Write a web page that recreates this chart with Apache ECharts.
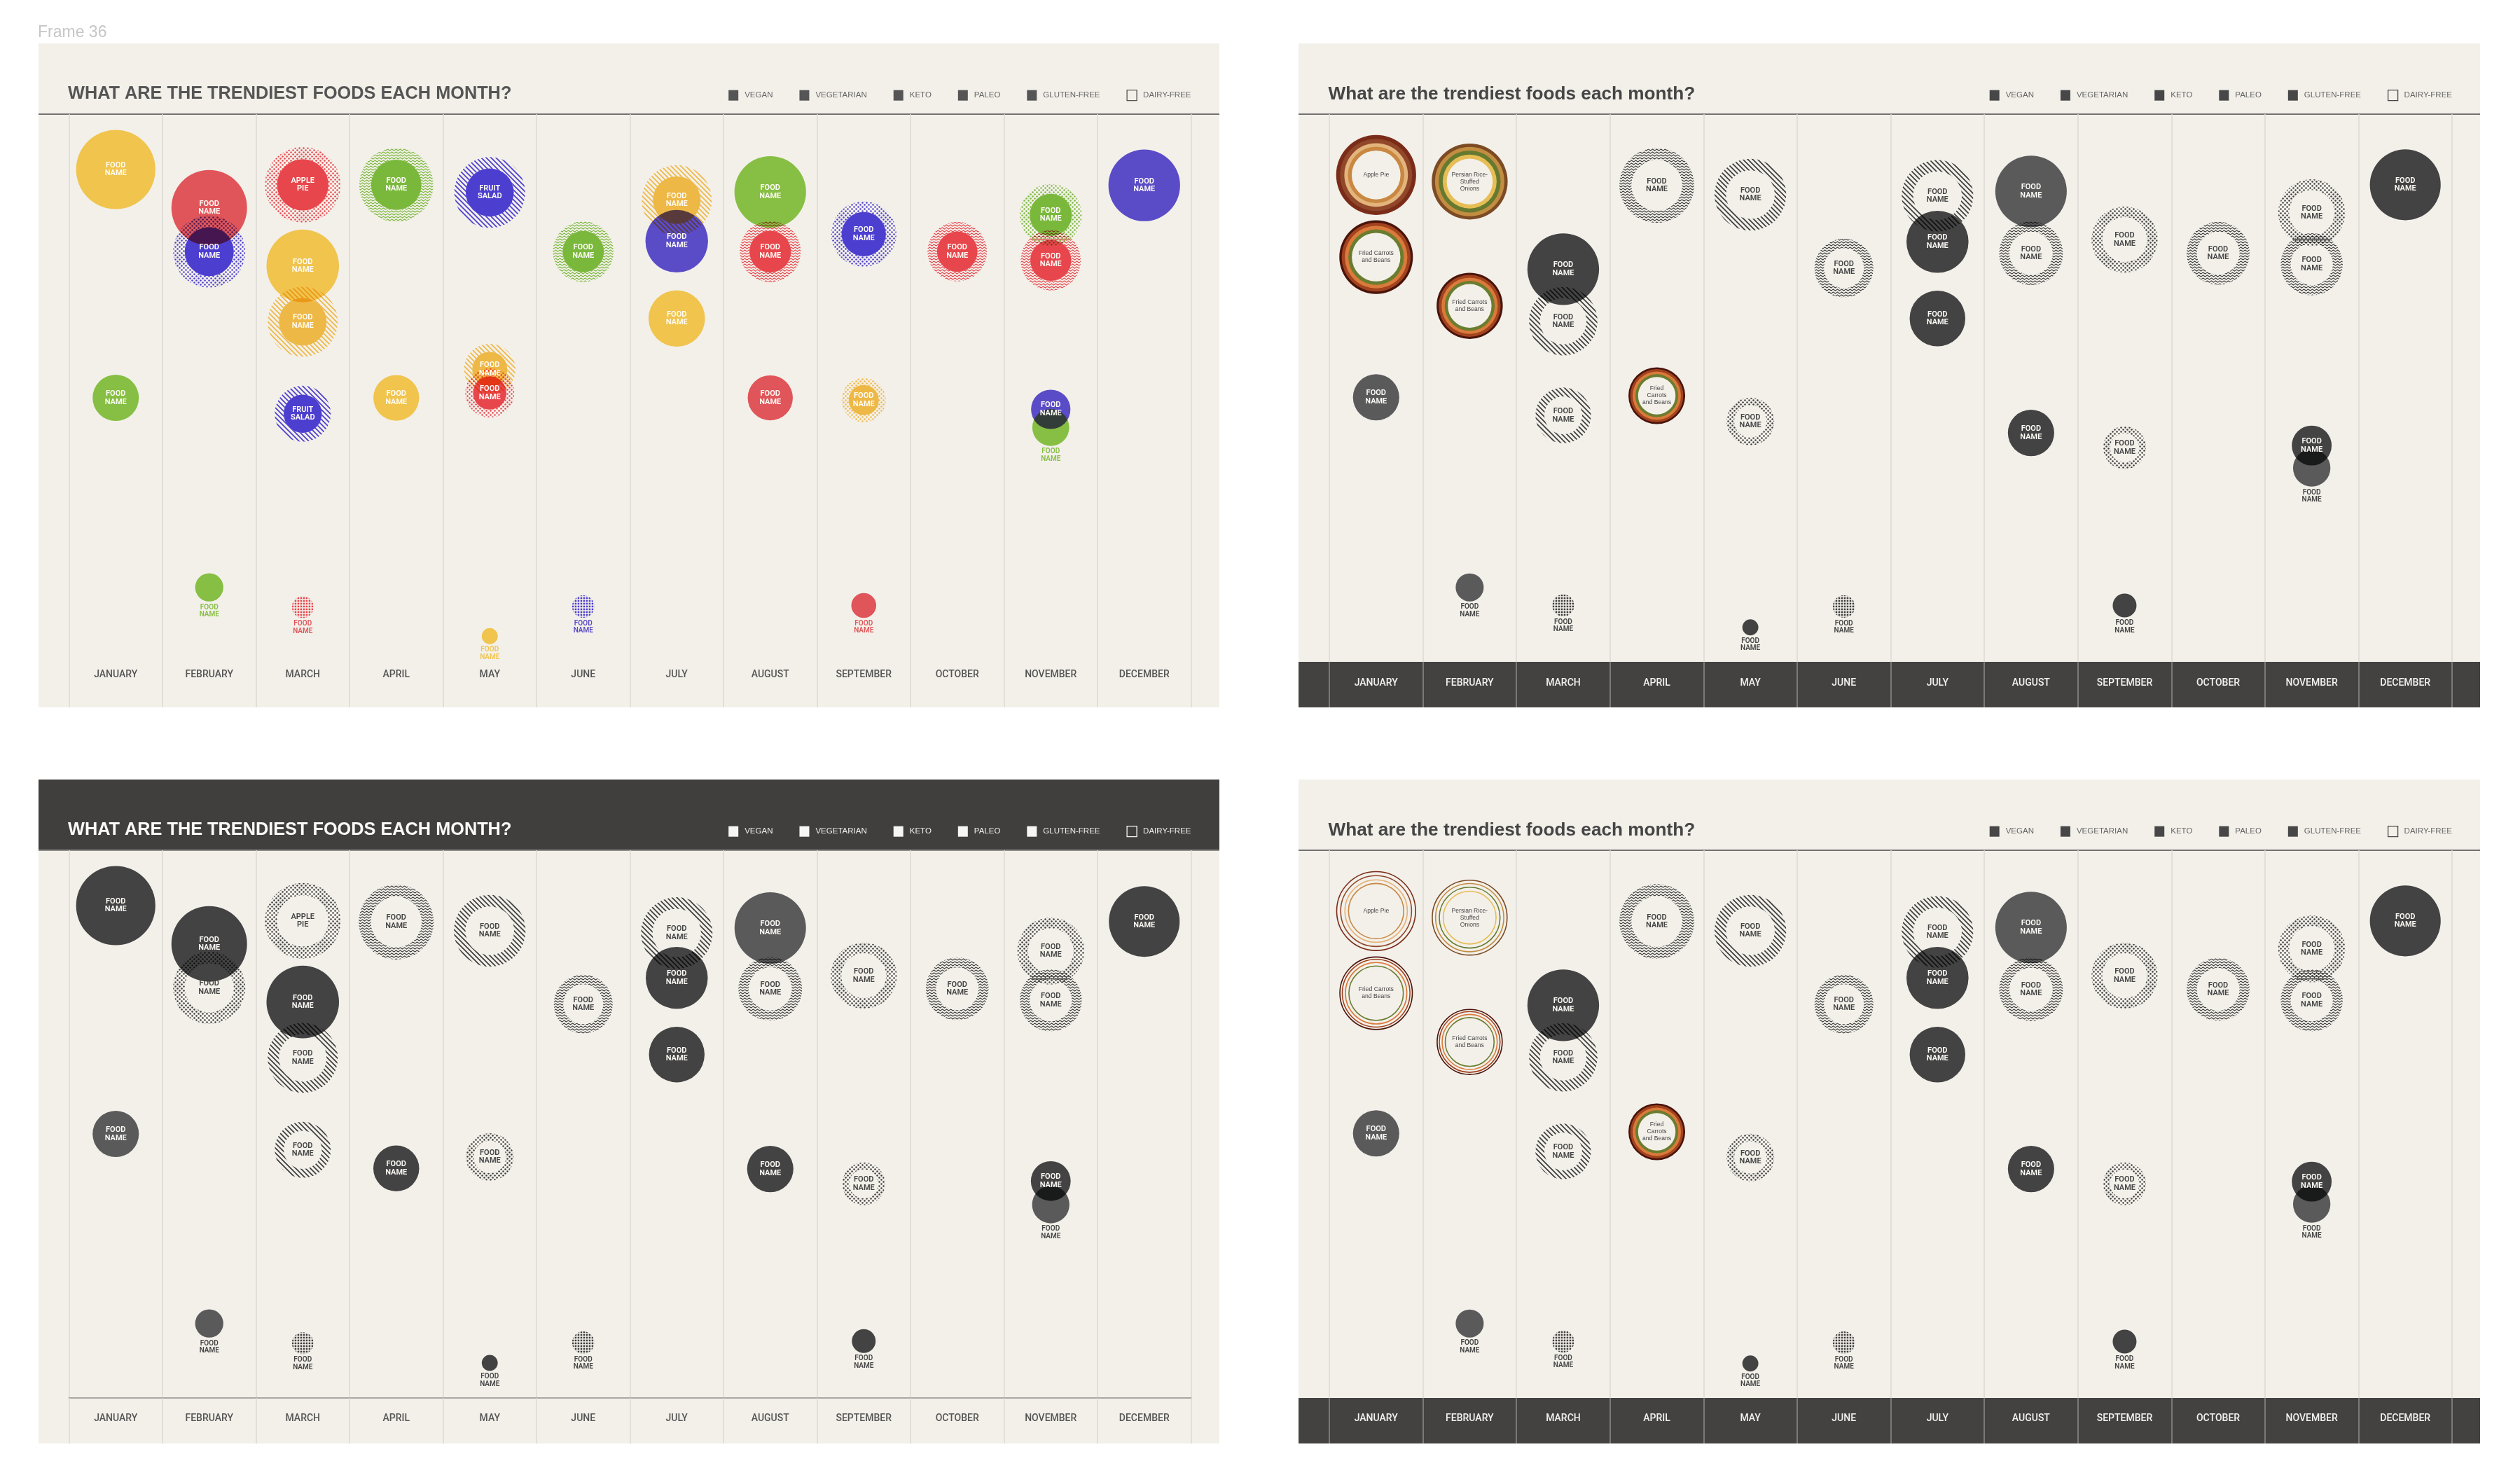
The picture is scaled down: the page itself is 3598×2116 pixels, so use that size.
<!DOCTYPE html>
<html>
<head>
<meta charset="utf-8">
<script src="https://cdn.jsdelivr.net/npm/echarts@6/dist/echarts.min.js"></script>
<style>
html,body{margin:0;padding:0;background:#ffffff;}
#c{width:3598px;height:2116px;}
</style>
</head>
<body>
<div id="c"></div>
<script>
// ---------------- DATA ----------------
const MONTHS = ['JANUARY','FEBRUARY','MARCH','APRIL','MAY','JUNE','JULY','AUGUST','SEPTEMBER','OCTOBER','NOVEMBER','DECEMBER'];
const DIETS = ['VEGAN','VEGETARIAN','KETO','PALEO','GLUTEN-FREE','DAIRY-FREE'];
const TITLE_CAPS = 'WHAT ARE THE TRENDIEST FOODS EACH MONTH?';
const TITLE_SENTENCE = 'What are the trendiest foods each month?';
const FN = 'FOOD\nNAME';

// rows: [month, trend score (0-100), buzz (bubble size, 0-100), diet, food group, label]
const DRAFT_FOODS = [
  ['JANUARY', 89.9, 94.2, 'VEGAN', 'sunny', FN],
  ['JANUARY', 48.2, 55.0, 'VEGAN', 'leafy', FN],
  ['FEBRUARY', 82.9, 89.9, 'VEGAN', 'tomato', FN],
  ['FEBRUARY', 74.9, 85.7, 'PALEO', 'berry', FN],
  ['FEBRUARY', 13.6, 33.5, 'VEGAN', 'leafy', FN],
  ['MARCH', 87.1, 89.9, 'PALEO', 'tomato', 'APPLE\nPIE'],
  ['MARCH', 72.3, 86.2, 'VEGAN', 'sunny', FN],
  ['MARCH', 62.1, 83.2, 'VEGETARIAN', 'sunny', FN],
  ['MARCH', 45.3, 66.6, 'VEGETARIAN', 'berry', 'FRUIT\nSALAD'],
  ['MARCH', 10.0, 25.8, 'GLUTEN-FREE', 'tomato', FN],
  ['APRIL', 87.1, 87.9, 'KETO', 'leafy', FN],
  ['APRIL', 48.2, 54.4, 'VEGAN', 'sunny', FN],
  ['MAY', 85.7, 84.1, 'VEGETARIAN', 'berry', 'FRUIT\nSALAD'],
  ['MAY', 53.4, 61.1, 'VEGETARIAN', 'sunny', FN],
  ['MAY', 49.1, 58.3, 'PALEO', 'tomato', FN],
  ['MAY', 4.7, 19.1, 'VEGAN', 'sunny', FN],
  ['JUNE', 74.9, 72.1, 'KETO', 'leafy', FN],
  ['JUNE', 10.1, 26.6, 'GLUTEN-FREE', 'berry', FN],
  ['JULY', 84.3, 83.2, 'VEGETARIAN', 'sunny', FN],
  ['JULY', 76.8, 74.4, 'VEGAN', 'berry', FN],
  ['JULY', 62.7, 67.1, 'VEGAN', 'sunny', FN],
  ['AUGUST', 85.8, 85.1, 'VEGAN', 'leafy', FN],
  ['AUGUST', 74.9, 72.6, 'KETO', 'tomato', FN],
  ['AUGUST', 48.2, 53.6, 'VEGAN', 'tomato', FN],
  ['SEPTEMBER', 78.1, 77.4, 'PALEO', 'berry', FN],
  ['SEPTEMBER', 47.8, 52.6, 'PALEO', 'sunny', FN],
  ['SEPTEMBER', 10.3, 29.6, 'VEGAN', 'tomato', FN],
  ['OCTOBER', 74.9, 70.7, 'KETO', 'tomato', FN],
  ['NOVEMBER', 81.6, 73.6, 'PALEO', 'leafy', FN],
  ['NOVEMBER', 73.3, 71.6, 'KETO', 'tomato', FN],
  ['NOVEMBER', 46.1, 46.8, 'VEGAN', 'berry', FN],
  ['NOVEMBER', 42.8, 43.9, 'VEGAN', 'leafy', FN],
  ['DECEMBER', 87.0, 85.1, 'VEGAN', 'berry', FN]
];

const MONO_FOODS = [
  ['JANUARY', 89.9, 94.2, 'VEGAN', 'sunny', FN],
  ['JANUARY', 48.2, 55.0, 'VEGAN', 'leafy', FN],
  ['FEBRUARY', 82.9, 89.9, 'VEGAN', 'tomato', FN],
  ['FEBRUARY', 74.9, 85.7, 'PALEO', 'berry', FN],
  ['FEBRUARY', 13.6, 33.5, 'VEGAN', 'leafy', FN],
  ['MARCH', 87.1, 89.9, 'PALEO', 'tomato', 'APPLE\nPIE'],
  ['MARCH', 72.3, 86.2, 'VEGAN', 'sunny', FN],
  ['MARCH', 62.1, 83.2, 'VEGETARIAN', 'sunny', FN],
  ['MARCH', 45.3, 66.6, 'VEGETARIAN', 'berry', FN],
  ['MARCH', 10.0, 25.8, 'GLUTEN-FREE', 'tomato', FN],
  ['APRIL', 86.9, 89.0, 'KETO', 'leafy', FN],
  ['APRIL', 41.9, 54.5, 'VEGAN', 'sunny', FN],
  ['MAY', 85.3, 85.1, 'VEGETARIAN', 'berry', FN],
  ['MAY', 44.0, 56.6, 'PALEO', 'tomato', FN],
  ['MAY', 6.4, 19.0, 'VEGAN', 'sunny', FN],
  ['JUNE', 71.9, 69.9, 'KETO', 'leafy', FN],
  ['JUNE', 10.1, 26.5, 'GLUTEN-FREE', 'berry', FN],
  ['JULY', 84.9, 84.9, 'VEGETARIAN', 'sunny', FN],
  ['JULY', 76.7, 73.7, 'VEGAN', 'berry', FN],
  ['JULY', 62.7, 66.1, 'VEGAN', 'sunny', FN],
  ['AUGUST', 85.8, 84.9, 'VEGAN', 'leafy', FN],
  ['AUGUST', 74.7, 75.6, 'KETO', 'tomato', FN],
  ['AUGUST', 41.8, 55.0, 'VEGAN', 'tomato', FN],
  ['SEPTEMBER', 77.1, 78.4, 'PALEO', 'berry', FN],
  ['SEPTEMBER', 39.1, 50.9, 'PALEO', 'sunny', FN],
  ['SEPTEMBER', 10.4, 28.3, 'VEGAN', 'tomato', FN],
  ['OCTOBER', 74.7, 74.6, 'KETO', 'tomato', FN],
  ['NOVEMBER', 81.6, 79.4, 'PALEO', 'leafy', FN],
  ['NOVEMBER', 72.6, 73.7, 'KETO', 'tomato', FN],
  ['NOVEMBER', 39.6, 47.3, 'VEGAN', 'berry', FN],
  ['NOVEMBER', 35.3, 44.4, 'VEGAN', 'leafy', FN],
  ['DECEMBER', 87.0, 84.1, 'VEGAN', 'berry', FN]
];

const RING_FOODS = [
  ['JANUARY', 88.9, 95.0, 'DAIRY-FREE', 'tomato', 'Apple Pie'],
  ['JANUARY', 73.9, 87.4, 'DAIRY-FREE', 'tomato', 'Fried Carrots\nand Beans'],
  ['JANUARY', 48.3, 55.0, 'VEGAN', 'leafy', FN],
  ['FEBRUARY', 87.7, 90.2, 'DAIRY-FREE', 'sunny', 'Persian Rice-\nStuffed\nOnions'],
  ['FEBRUARY', 65.0, 78.6, 'DAIRY-FREE', 'tomato', 'Fried Carrots\nand Beans'],
  ['FEBRUARY', 13.6, 33.3, 'VEGAN', 'leafy', FN],
  ['MARCH', 71.7, 85.1, 'VEGAN', 'sunny', FN],
  ['MARCH', 62.2, 81.2, 'VEGETARIAN', 'sunny', FN],
  ['MARCH', 45.0, 66.1, 'VEGETARIAN', 'berry', FN],
  ['MARCH', 10.3, 26.1, 'GLUTEN-FREE', 'tomato', FN],
  ['APRIL', 87.0, 88.9, 'KETO', 'leafy', FN],
  ['APRIL', 48.6, 67.4, 'DAIRY-FREE', 'tomato', 'Fried\nCarrots\nand Beans'],
  ['MAY', 85.3, 85.1, 'VEGETARIAN', 'berry', FN],
  ['MAY', 43.9, 56.6, 'PALEO', 'tomato', FN],
  ['MAY', 6.3, 19.0, 'VEGAN', 'sunny', FN],
  ['JUNE', 71.9, 69.9, 'KETO', 'leafy', FN],
  ['JUNE', 10.1, 26.5, 'GLUTEN-FREE', 'berry', FN],
  ['JULY', 85.1, 84.9, 'VEGETARIAN', 'sunny', FN],
  ['JULY', 76.7, 73.7, 'VEGAN', 'berry', FN],
  ['JULY', 62.7, 66.1, 'VEGAN', 'sunny', FN],
  ['AUGUST', 85.9, 84.9, 'VEGAN', 'leafy', FN],
  ['AUGUST', 74.6, 75.6, 'KETO', 'tomato', FN],
  ['AUGUST', 41.8, 55.0, 'VEGAN', 'tomato', FN],
  ['SEPTEMBER', 77.1, 78.4, 'PALEO', 'berry', FN],
  ['SEPTEMBER', 39.1, 50.9, 'PALEO', 'sunny', FN],
  ['SEPTEMBER', 10.3, 28.3, 'VEGAN', 'tomato', FN],
  ['OCTOBER', 74.6, 74.6, 'KETO', 'tomato', FN],
  ['NOVEMBER', 82.0, 79.4, 'PALEO', 'leafy', FN],
  ['NOVEMBER', 72.6, 73.7, 'KETO', 'tomato', FN],
  ['NOVEMBER', 39.5, 47.3, 'VEGAN', 'berry', FN],
  ['NOVEMBER', 35.4, 44.4, 'VEGAN', 'leafy', FN],
  ['DECEMBER', 87.1, 84.1, 'VEGAN', 'berry', FN]
];

// months whose ring pick stays bold in the outline edition
const BOLD_RING_MONTHS = ['APRIL'];

// ---------------- STYLE ----------------
const BG = '#f3f0ea';
const BG_RGB = [243, 240, 234];
const SPLIT = '#dcd9d3';
const GROUP = { sunny: '#f0c54d', tomato: '#e0555a', berry: '#5a4ac7', leafy: '#86bf43' };
const INNER = { sunny: '#eeb846', tomato: '#e8464c', berry: '#4c3ecf', leafy: '#7ab83c' };
const MONO = { sunny: '#434343', tomato: '#434343', berry: '#434343', leafy: '#5a5a5b' };
const INK = '#3d3d3d';
const HALO = { VEGETARIAN: 'hatch', KETO: 'wave', PALEO: 'dots' };
const HALO_RATIO = 1.47;
const INSIDE_MIN_BUZZ = 45;
const RINGS = {
  'Apple Pie': { colors: ['#7a2c19', '#91482a', '#e3b47c', '#c98841'], fr: [1, 0.9, 0.795, 0.705, 0.61] },
  'Fried Carrots and Beans': { colors: ['#4a140b', '#a2431f', '#da7a3b', '#6a7d2f'], fr: [1, 0.935, 0.85, 0.755, 0.66] },
  'Persian Rice-Stuffed Onions': { colors: ['#7c4b24', '#c38d41', '#657a2f', '#e7bd56'], fr: [1, 0.913, 0.815, 0.71, 0.605] }
};
const SANS = '"Liberation Sans",Arial,sans-serif';

function mul(hex) {
  const n = parseInt(hex.slice(1), 16);
  const c = [(n >> 16) & 255, (n >> 8) & 255, n & 255];
  return 'rgb(' + c.map((v, i) => Math.min(255, Math.round(v * 255 / BG_RGB[i]))).join(',') + ')';
}
const patternCache = {};
function pattern(kind, hex) {
  const key = kind + hex;
  if (patternCache[key]) return patternCache[key];
  const cv = document.createElement('canvas');
  let w = 6, h = 6;
  if (kind === 'hatch') { w = h = 7; }
  else if (kind === 'wave') { w = 6; h = 4; }
  else if (kind === 'grid') { w = h = 4; }
  cv.width = w; cv.height = h;
  const g = cv.getContext('2d');
  const col = mul(hex);
  g.strokeStyle = col; g.fillStyle = col;
  if (kind === 'hatch') {
    g.lineWidth = 1.7;
    g.beginPath();
    g.moveTo(-1, -1); g.lineTo(w + 1, h + 1);
    g.moveTo(-1, h - 1); g.lineTo(1, h + 1);
    g.moveTo(w - 1, -1); g.lineTo(w + 1, 1);
    g.stroke();
  } else if (kind === 'wave') {
    g.lineWidth = 1.1;
    g.beginPath();
    g.moveTo(0, 2); g.lineTo(1.5, 1); g.lineTo(4.5, 3); g.lineTo(6, 2);
    g.stroke();
  } else if (kind === 'dots') {
    g.beginPath(); g.arc(1.5, 1.5, 1.25, 0, Math.PI * 2); g.fill();
    g.beginPath(); g.arc(4.5, 4.5, 1.25, 0, Math.PI * 2); g.fill();
  } else {
    g.fillRect(0.7, 0.7, 2.5, 2.5);
  }
  const p = { image: cv, repeat: 'repeat' };
  patternCache[key] = p;
  return p;
}
function ringKey(label) { return label.replace(/-\n/g, '-').replace(/\n/g, ' '); }

// ---------------- PANELS ----------------
const PANELS = [
  { rows: DRAFT_FOODS, mode: 'color', left: 98.5, top: 163, width: 1602, title: TITLE_CAPS, titleSize: 25.3,
    titleColor: '#555555', legendInk: '#555555', legendText: '#666666', labelColor: '#555555',
    band: false, axisLine: false, margin: 11, rings: 'thick' },
  { rows: RING_FOODS, mode: 'mono', left: 1898, top: 163, width: 1603, title: TITLE_SENTENCE, titleSize: 26.2,
    titleColor: '#454545', legendInk: '#474747', legendText: '#666666', labelColor: '#f2f2f2',
    band: true, axisLine: false, margin: 23, rings: 'thick' },
  { rows: MONO_FOODS, mode: 'mono', left: 98.5, top: 1214, width: 1602, title: TITLE_CAPS, titleSize: 25.3,
    titleColor: '#fafafa', legendInk: '#f6f6f6', legendText: '#eeeeee', labelColor: '#555555',
    band: false, axisLine: true, margin: 22, rings: 'thick' },
  { rows: RING_FOODS, mode: 'mono', left: 1898, top: 1214, width: 1603, title: TITLE_SENTENCE, titleSize: 26.2,
    titleColor: '#454545', legendInk: '#474747', legendText: '#666666', labelColor: '#f2f2f2',
    band: true, axisLine: false, margin: 22, rings: 'thin' }
];
const GRID_H = 782;

function renderer(rows, p) {
  return function (params, api) {
    const row = rows[params.dataIndex];
    const pt = api.coord([api.value(0), api.value(1)]);
    const unit = api.size([1, 0])[0] * 0.0045;
    const buzz = api.value(2);
    const r = buzz * unit;
    const r0 = r / HALO_RATIO;
    const cx = pt[0], cy = pt[1];
    const diet = row[3], grp = row[4], label = row[5];
    const color = p.mode === 'color';
    const kids = [];
    let inside = buzz >= INSIDE_MIN_BUZZ && diet !== 'GLUTEN-FREE';
    let insideFill = '#fffdf8';
    let ringText = false;
    if (diet === 'VEGAN') {
      kids.push({ type: 'circle', shape: { cx: cx, cy: cy, r: r },
        style: { fill: mul(color ? GROUP[grp] : MONO[grp]), blend: 'multiply' } });
    } else if (HALO[diet]) {
      const ink = color ? INNER[grp] : INK;
      kids.push({ type: 'ring', shape: { cx: cx, cy: cy, r: r, r0: r0 },
        style: { fill: pattern(HALO[diet], ink), blend: 'multiply' } });
      if (color) {
        kids.push({ type: 'circle', shape: { cx: cx, cy: cy, r: r0 },
          style: { fill: mul(INNER[grp]), blend: 'multiply' } });
      } else {
        insideFill = '#444444';
      }
    } else if (diet === 'GLUTEN-FREE') {
      kids.push({ type: 'circle', shape: { cx: cx, cy: cy, r: r },
        style: { fill: pattern('grid', color ? INNER[grp] : INK), blend: 'multiply' } });
    } else {
      const pal = RINGS[ringKey(label)];
      const thin = p.rings === 'thin' && BOLD_RING_MONTHS.indexOf(row[0]) < 0;
      if (thin) {
        for (let i = 0; i < 4; i++) {
          kids.push({ type: 'circle', shape: { cx: cx, cy: cy, r: r * pal.fr[i] - 0.8 },
            style: { fill: 'none', stroke: pal.colors[i], lineWidth: 1.6 } });
        }
      } else {
        for (let i = 0; i < 4; i++) {
          kids.push({ type: 'circle', shape: { cx: cx, cy: cy, r: r * pal.fr[i] },
            style: { fill: pal.colors[i] } });
        }
        kids.push({ type: 'circle', shape: { cx: cx, cy: cy, r: r * pal.fr[4] }, style: { fill: BG } });
      }
      inside = true; insideFill = '#444444'; ringText = true;
    }
    if (inside) {
      kids.push({ type: 'text', z2: 100, style: ringText ? {
          text: label, x: cx, y: cy, fill: insideFill, fontSize: 8.6, fontFamily: SANS,
          align: 'center', verticalAlign: 'middle', lineHeight: 10 } : {
          text: label, x: cx, y: cy, fill: insideFill, fontSize: 11, fontWeight: 600, fontFamily: 'Roboto',
          align: 'center', verticalAlign: 'middle', lineHeight: 11.5 } });
    } else {
      kids.push({ type: 'text', z2: 100, style: {
        text: label, x: cx, y: cy + r + 3, fill: color ? GROUP[grp] : '#444444', fontSize: 10,
        fontWeight: 600, fontFamily: 'Roboto', align: 'center', verticalAlign: 'top', lineHeight: 10.5 } });
    }
    return { type: 'group', children: kids };
  };
}

function legendData(ink) {
  return DIETS.map(d => d === 'DAIRY-FREE'
    ? { name: d, icon: 'rect', itemStyle: { color: 'rgba(0,0,0,0)', borderColor: ink, borderWidth: 1.3 } }
    : { name: d, icon: 'rect', itemStyle: { color: ink, borderWidth: 0 } });
}

const grids = [], xAxes = [], yAxes = [], series = [], titles = [], legends = [];
PANELS.forEach((p, i) => {
  grids.push({ left: p.left, top: p.top, width: p.width, height: GRID_H, containLabel: false, outerBoundsMode: 'none' });
  xAxes.push({
    type: 'category', gridIndex: i, data: MONTHS, boundaryGap: true,
    axisLine: { show: p.axisLine, lineStyle: { color: '#a9a7a3', width: 2 } },
    axisTick: { show: true, interval: 0, alignWithLabel: false, length: 65,
      lineStyle: { color: p.band ? '#8d8c8a' : SPLIT, width: 1.5 } },
    splitLine: { show: true, interval: 0, lineStyle: { color: SPLIT, width: 1.5 } },
    axisLabel: { interval: 0, margin: p.margin, color: p.labelColor, fontFamily: 'Roboto', fontSize: 14, fontWeight: 500 }
  });
  yAxes.push({ type: 'value', gridIndex: i, min: 0, max: 100, show: false });
  DIETS.forEach(diet => {
    const rows = p.rows.filter(r => r[3] === diet);
    series.push({
      type: 'custom', name: diet, xAxisIndex: i, yAxisIndex: i, coordinateSystem: 'cartesian2d',
      encode: { x: 0, y: 1 }, silent: true, clip: false,
      data: rows.map(r => [r[0], r[1], r[2]]),
      renderItem: renderer(rows, p)
    });
  });
  const yOff = p.top - 163;
  titles.push({ text: p.title, left: p.left - 1.5, top: 122 + yOff, padding: 0,
    textStyle: { color: p.titleColor, fontFamily: SANS, fontWeight: 'bold', fontSize: p.titleSize } });
  legends.push({
    data: legendData(p.legendInk), right: 3598 - (p.left + p.width), top: 128 + yOff, padding: 0,
    orient: 'horizontal', itemWidth: 14, itemHeight: 15, itemGap: 38, selectedMode: false,
    textStyle: { color: p.legendText, fontFamily: SANS, fontSize: 11.5, padding: [0, 0, 0, 4] }
  });
});

const graphics = [
  { type: 'text', z: -1, style: { text: 'Frame 36', x: 54, y: 47, fill: '#c6c6c6', fontSize: 23,
      fontFamily: SANS, verticalAlign: 'middle' } },
  { type: 'rect', z: -2, shape: { x: 55, y: 62, width: 1686, height: 948 }, style: { fill: BG } },
  { type: 'rect', z: -2, shape: { x: 1854, y: 62, width: 1687, height: 948 }, style: { fill: BG } },
  { type: 'rect', z: -2, shape: { x: 55, y: 1113, width: 1686, height: 948 }, style: { fill: BG } },
  { type: 'rect', z: -2, shape: { x: 1854, y: 1113, width: 1687, height: 948 }, style: { fill: BG } },
  { type: 'rect', z: -1, shape: { x: 55, y: 1113, width: 1686, height: 100 }, style: { fill: '#403f3d' } },
  { type: 'rect', z: -1, shape: { x: 1854, y: 945, width: 1687, height: 65 }, style: { fill: '#434241' } },
  { type: 'rect', z: -1, shape: { x: 1854, y: 1996, width: 1687, height: 65 }, style: { fill: '#434241' } },
  { type: 'line', z: -1, shape: { x1: 55, y1: 163, x2: 1741, y2: 163 }, style: { stroke: '#727170', lineWidth: 2 } },
  { type: 'line', z: -1, shape: { x1: 1854, y1: 163, x2: 3541, y2: 163 }, style: { stroke: '#727170', lineWidth: 2 } },
  { type: 'line', z: -1, shape: { x1: 55, y1: 1214, x2: 1741, y2: 1214 }, style: { stroke: '#8f8d8a', lineWidth: 2 } },
  { type: 'line', z: -1, shape: { x1: 1854, y1: 1214, x2: 3541, y2: 1214 }, style: { stroke: '#727170', lineWidth: 2 } }
];

const chart = echarts.init(document.getElementById('c'), null, { renderer: 'canvas', width: 3598, height: 2116 });
chart.setOption({
  backgroundColor: '#ffffff',
  animation: false,
  title: titles,
  legend: legends,
  grid: grids,
  xAxis: xAxes,
  yAxis: yAxes,
  graphic: { elements: graphics },
  series: series
});

// overlapping bubbles mix like ink: make sure the multiply blend reaches the canvas
(function applyMultiply() {
  const zr = chart.getZr();
  zr.storage.getDisplayList(true).forEach(el => {
    if (!el.shape || !el.style) return;
    const f = el.style.fill;
    if ((f && typeof f === 'object' && f.image) || (typeof f === 'string' && f.indexOf('rgb(') === 0)) {
      el.style.blend = 'multiply';
      el.markRedraw();
    }
  });
  zr.refreshImmediately();
})();
</script>
</body>
</html>
